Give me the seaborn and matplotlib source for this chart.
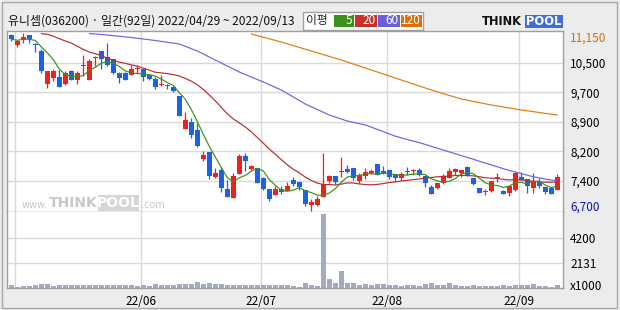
import numpy as np
import pandas as pd
import matplotlib
matplotlib.use("Agg")
import matplotlib.pyplot as plt
import seaborn as sns
from matplotlib.patches import Rectangle

# ---------------- data ----------------
opens = [11110, 10850, 10980, 11100, 10870, 10700, 9890, 10030, 10050, 9870,
         10200, 9990, 10330, 9990, 10540, 10700, 10550, 10500, 10150, 10160,
         10100, 10270, 10250, 10100, 10000, 9870, 9850, 9800, 9580, 8750,
         8920, 8730, 8000, 8170, 7540, 7720, 7250, 7030, 7620, 8070,
         7740, 7760, 7510, 7250, 7100, 7250, 7200, 7470, 7420, 7220,
         6840, 6850, 7050, 7440, 7560, 7690, 7750, 7770, 7450, 7580,
         7640, 7870, 7700, 7720, 7620, 7530, 7680, 7710, 7730, 7570,
         7300, 7280, 7390, 7530, 7670, 7640, 7800, 7510, 7260, 7170,
         7200, 7530, 7190, 7140, 7220, 7550, 7490, 7280, 7420, 7300,
         7280, 7230]
highs = [11120, 10970, 11150, 11100, 10910, 10750, 10200, 10250, 10230, 10200,
         10240, 10200, 10600, 10500, 10570, 10700, 10900, 10500, 10180, 10170,
         10350, 10350, 10260, 10110, 10060, 10100, 9890, 9820, 9590, 9180,
         9020, 8890, 8200, 8180, 7770, 7790, 7470, 7640, 8120, 8150,
         7850, 7780, 7540, 7250, 7330, 7330, 7430, 7540, 7420, 7220,
         7000, 7070, 8140, 7600, 7580, 8040, 7850, 7780, 7650, 7760,
         7750, 7880, 7820, 7730, 7630, 7670, 7790, 7740, 7760, 7580,
         7350, 7400, 7610, 7770, 7760, 7720, 7820, 7520, 7280, 7240,
         7450, 7640, 7220, 7320, 7660, 7680, 7500, 7640, 7510, 7300,
         7290, 7620]
lows = [10950, 10800, 10900, 10900, 10690, 10150, 9790, 9950, 9800, 9860,
        9970, 9890, 10070, 9980, 10320, 10250, 10340, 10140, 9900, 9990,
        10100, 10150, 9950, 9980, 9750, 9840, 9750, 9690, 9070, 8750,
        8520, 8290, 7950, 7490, 7510, 7180, 7050, 7030, 7620, 7700,
        7720, 7390, 7220, 6950, 7100, 7120, 7200, 7320, 7220, 6820,
        6700, 6820, 7050, 7400, 7370, 7540, 7650, 7470, 7400, 7490,
        7610, 7590, 7610, 7490, 7450, 7470, 7600, 7590, 7580, 7290,
        7120, 7250, 7370, 7510, 7600, 7550, 7570, 7350, 7140, 7090,
        7160, 7420, 7110, 7080, 7200, 7460, 7150, 7140, 7280, 7110,
        7120, 7220]
closes = [11000, 10950, 11050, 11000, 10850, 10200, 10200, 10200, 9810, 10150,
          9990, 10150, 10350, 10450, 10550, 10500, 10350, 10150, 10040, 9990,
          10250, 10280, 10050, 10000, 9800, 9880, 9840, 9700, 9080, 8980,
          8600, 8320, 8100, 7570, 7650, 7280, 7050, 7570, 8080, 7950,
          7820, 7400, 7240, 6990, 7250, 7160, 7310, 7370, 7300, 6870,
          6920, 7000, 7360, 7570, 7430, 7700, 7670, 7510, 7600, 7660,
          7700, 7600, 7640, 7550, 7510, 7630, 7670, 7720, 7600, 7400,
          7130, 7390, 7560, 7700, 7750, 7720, 7580, 7380, 7150, 7180,
          7440, 7520, 7130, 7310, 7640, 7460, 7330, 7440, 7330, 7160,
          7130, 7540]
volumes = [220, 120, 200, 140, 250, 330, 360, 150, 250, 220,
           220, 220, 250, 220, 220, 250, 220, 250, 220, 220,
           220, 200, 220, 200, 340, 280, 280, 250, 360, 360,
           310, 530, 310, 450, 340, 310, 280, 280, 280, 250,
           280, 250, 220, 250, 250, 220, 220, 170, 90, 420,
           250, 170, 6180, 750, 420, 1420, 420, 420, 250, 330,
           250, 330, 330, 250, 250, 170, 250, 250, 170, 330,
           420, 250, 250, 420, 250, 170, 170, 250, 170, 170,
           170, 170, 250, 170, 250, 250, 250, 330, 170, 170,
           90, 250]

# moving-average segments that need history before the visible window
ma20_early_idx = [5, 6, 7, 8, 9, 10, 11, 12, 13, 14, 15, 16, 17, 18]
ma20_early = [11140, 11125, 11077, 11015, 10957, 10907, 10826, 10746, 10681,
              10638, 10593, 10526, 10475, 10425]
ma60_early_idx = [13, 16, 20, 24, 28, 31, 34, 38, 42, 45, 49, 53, 56]
ma60_early = [11145, 11107, 11045, 10969, 10882, 10706, 10480, 10179, 9929,
              9728, 9377, 9101, 8950]
ma120_idx = [40, 45, 50, 55, 60, 65, 70, 75, 80, 85, 91]
ma120_vals = [11132, 10932, 10706, 10480, 10230, 9979, 9728, 9502, 9352, 9227, 9101]

month_idx = [1, 22, 42, 63, 85]
month_labels = ["", "22/06", "22/07", "22/08", "22/09"]
price_ticks = [10405, 9668, 8931, 8194, 7457]
price_tick_labels = ["10,500", "9,700", "8,900", "8,200", "7,400"]
max_label, min_label = "11,150", "6,700"
vol_ticks = [2131, 4200]
vol_tick_labels = ["2131", "4200"]

title = "유니셈(036200) · 일간(92일) 2022/04/29 ~ 2022/09/13"
legend_name = "이평"
ma_names = ["5", "20", "60", "120"]

# ---------------- style ----------------
sns.set_style("white")
plt.rcParams['font.family'] = ['Noto Sans CJK KR', 'DejaVu Sans']

BG = '#ececec'
RED = '#f02020'
BLUE = '#1e62e4'
GRID = '#d9d9d9'
FRAME = '#a0a0a0'
C5, C20, C60, C120 = '#3a9018', '#b82c2c', '#6c62e2', '#e07a10'
VOLC = '#a3abc3'

W, H = 620, 310
fig = plt.figure(figsize=(W / 100, H / 100), dpi=100, facecolor=BG)

L, R = 7.3, 562.5
PT, PB, VB = 31.3, 212.3, 288.0
axp = fig.add_axes([L / W, 1 - PB / H, (R - L) / W, (PB - PT) / H])
axv = fig.add_axes([L / W, 1 - VB / H, (R - L) / W, (VB - PB) / H], sharex=axp)
for a in (axp, axv):
    a.set_facecolor('white')

n = len(closes)
idx = np.arange(n)
o = np.array(opens, float); c = np.array(closes, float)
hi = np.array(highs, float); lo = np.array(lows, float)
up = c > o
cols = np.where(up, RED, BLUE)

# wicks and bodies
axp.vlines(idx, lo, hi, colors=cols, lw=0.9, zorder=3)
bb = np.minimum(o, c)
bh = np.abs(c - o)
small = bh < 26
bb = np.where(small, (o + c) / 2 - 13, bb)
bh = np.where(small, 26, bh)
axp.bar(idx, bh, bottom=bb, width=0.78, color=cols, linewidth=0, zorder=4)

# moving averages
cs = pd.Series(c)
ma5 = cs.rolling(5, min_periods=1).mean()
ma20 = cs.rolling(20).mean()
ma20 = pd.concat([pd.Series(ma20_early, index=ma20_early_idx), ma20.dropna()])
ma60 = cs.rolling(60).mean()
ma60 = pd.concat([pd.Series(ma60_early, index=ma60_early_idx), ma60.dropna()])
ma120 = pd.Series(ma120_vals, index=ma120_idx)

for s, col in [(ma120, C120), (ma60, C60), (ma20, C20), (ma5, C5)]:
    sns.lineplot(x=s.index.values, y=s.values, ax=axp, color=col, lw=0.85,
                 estimator=None, sort=False, zorder=5)

# volume bars
vdf = pd.DataFrame({'i': idx, 'v': volumes})
sns.barplot(data=vdf, x='i', y='v', ax=axv, color=VOLC, width=0.78,
            saturation=1, native_scale=True, linewidth=0)

# axes limits (pixel-matched)
s_px = 25.08
axp.set_ylim(11150 - (PB - 33.3) * s_px, 11150 + (33.3 - PT) * s_px)
axp.set_xlim((L - 11.3) / 6, (R - 11.3) / 6)
axv.set_ylim(0, (VB - PB) * 84.0)

grid_x = [m - 0.43 for m in month_idx]
for a in (axp, axv):
    a.set_xticks(grid_x)
    a.grid(True, color=GRID, lw=1.0)
    a.set_axisbelow(True)
    a.yaxis.tick_right()
    a.tick_params(length=0, pad=5.5, labelsize=8.5, colors='black')
axp.set_yticks(price_ticks)
axp.set_yticklabels(price_tick_labels)
axp.tick_params(axis='x', labelbottom=False)
axv.set_yticks(vol_ticks)
axv.set_yticklabels(vol_tick_labels)
axv.set_xticklabels(month_labels)
axv.tick_params(axis='x', pad=5)
axv.set_xlabel(''); axv.set_ylabel('')
axp.set_xlabel(''); axp.set_ylabel('')

for a in (axp, axv):
    for sp in a.spines.values():
        sp.set_color(FRAME); sp.set_linewidth(1.0)
axp.spines['bottom'].set_color('#8c8c8c')
axv.spines['top'].set_visible(False)

# extreme labels and unit
fig.text(570 / W, 1 - 38.3 / H, max_label, color='#d0700a', fontsize=8.5, va='center')
fig.text(570 / W, 1 - 206.7 / H, min_label, color='#1010c8', fontsize=8.5, va='center')
fig.text(570 / W, 1 - 286 / H, "x1000", color='black', fontsize=8.5, va='center')

# title
fig.text(8 / W, 1 - 21.5 / H, title, fontsize=8.6, va='center', color='#111111')

# legend box
fig.patches.append(Rectangle((303 / W, 1 - 29.5 / H), 120 / W, 17.5 / H,
                             transform=fig.transFigure, facecolor='white',
                             edgecolor='#a0a0a0', lw=1))
fig.text(306 / W, 1 - 20.8 / H, legend_name, fontsize=8.5, va='center')
box_x = [333.5, 355, 378, 401]
box_w = [20.5, 22, 22, 21]
for x0, bw, col, lab in zip(box_x, box_w, [C5, '#c8302c', '#6a60dc', '#dc7008'], ma_names):
    fig.patches.append(Rectangle((x0 / W, 1 - 27 / H), bw / W, 12.5 / H,
                                 transform=fig.transFigure, facecolor=col, lw=0))
    fig.text((x0 + bw - 1.5) / W, 1 - 20.8 / H, lab, fontsize=8.5, color='white',
             va='center', ha='right')

# logo
fig.text(482 / W, 1 - 21.5 / H, "THINK", fontsize=8.3, fontweight='bold',
         family='DejaVu Sans', va='center', color='#111111')
fig.patches.append(Rectangle((525 / W, 1 - 28 / H), 38 / W, 13 / H,
                             transform=fig.transFigure, facecolor='#3f6fd6', lw=0))
fig.text(544 / W, 1 - 21.5 / H, "POOL", fontsize=8.3, fontweight='bold',
         family='DejaVu Sans', va='center', ha='center', color='white')

# watermark
wm = '#c8c8c8'
fig.text(22 / W, 1 - 205.5 / H, "www.", fontsize=7, color=wm, va='center',
         family='DejaVu Sans')
fig.text(49 / W, 1 - 203 / H, "THINK", fontsize=10, color=wm, va='center',
         family='DejaVu Sans', fontweight='bold')
fig.patches.append(Rectangle((97.5 / W, 1 - 211 / H), 41.5 / W, 16 / H,
                             transform=fig.transFigure, facecolor='#d6d6d6', lw=0))
fig.text(118.2 / W, 1 - 203 / H, "POOL", fontsize=10, color='white', va='center',
         ha='center', family='DejaVu Sans', fontweight='bold')
fig.text(140.5 / W, 1 - 205.5 / H, ".com", fontsize=7, color=wm, va='center',
         family='DejaVu Sans')

# outer frame
fig.patches.append(Rectangle((2 / W, 1 - 308 / H), 615 / W, 306 / H,
                             transform=fig.transFigure, facecolor='none',
                             edgecolor='#a8a8a8', lw=1))

fig.savefig("out.png", dpi=100, facecolor=BG)
